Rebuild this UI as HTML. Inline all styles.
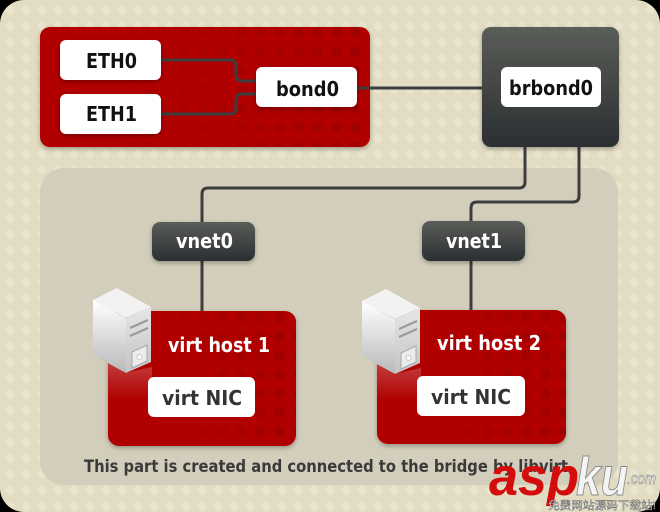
<!DOCTYPE html>
<html><head><meta charset="utf-8">
<style>html,body{margin:0;padding:0;background:#000;}svg{display:block}</style></head>
<body>
<svg width="660" height="512" viewBox="0 0 660 512" xmlns="http://www.w3.org/2000/svg">
<defs>
 <pattern id="bd" width="16" height="16" patternUnits="userSpaceOnUse" x="2" y="2">
  <circle cx="8" cy="8" r="4.2" fill="#ffffff" opacity="0.22"/>
 </pattern>
 <pattern id="rd" width="19" height="19" patternUnits="userSpaceOnUse" x="4" y="4">
  <circle cx="9.5" cy="9.5" r="5.2" fill="#7a0000" opacity="0.3"/>
 </pattern>
 <linearGradient id="dk" x1="0" y1="0" x2="0" y2="1"><stop offset="0" stop-color="#5a5d58"/><stop offset="1" stop-color="#2b2f31"/></linearGradient>
 <linearGradient id="fade" x1="0" x2="1" y1="0" y2="0"><stop offset="0.25" stop-color="#fff" stop-opacity="0"/><stop offset="1" stop-color="#fff" stop-opacity="1"/></linearGradient>
 <linearGradient id="sl" x1="0" y1="0" x2="0" y2="1"><stop offset="0" stop-color="#ffffff"/><stop offset="1" stop-color="#b9b9b9"/></linearGradient>
 <linearGradient id="sf" x1="0" y1="0" x2="0" y2="1"><stop offset="0" stop-color="#e6e6e6"/><stop offset="1" stop-color="#c4c4c4"/></linearGradient>
 <linearGradient id="refl" x1="0" y1="0" x2="0" y2="1"><stop offset="0" stop-color="#fff" stop-opacity="0.28"/><stop offset="1" stop-color="#fff" stop-opacity="0"/></linearGradient>
 <filter id="sh" x="-20%" y="-20%" width="140%" height="150%"><feDropShadow dx="0" dy="2" stdDeviation="2.5" flood-color="#000" flood-opacity="0.3"/></filter>
 <mask id="m1"><rect x="40" y="27" width="330" height="120" fill="url(#fade)"/></mask>
 <mask id="m2"><rect x="108" y="311" width="188" height="135" fill="url(#fade)"/></mask>
 <mask id="m3"><rect x="377" y="310" width="189" height="134" fill="url(#fade)"/></mask>
</defs>

<!-- background card -->
<rect x="0" y="0" width="660" height="512" rx="24" fill="#e2dcc3"/>
<rect x="0" y="0" width="660" height="512" rx="24" fill="url(#bd)"/>

<!-- libvirt panel -->
<rect x="40" y="168" width="578" height="317" rx="24" fill="#d1ccbb" opacity="0.92"/>

<!-- top red box -->
<g filter="url(#sh)">
 <rect x="40" y="27" width="330" height="120" rx="10" fill="#b00000"/>
</g>
<rect x="40" y="27" width="330" height="120" rx="10" fill="url(#rd)" mask="url(#m1)"/>

<!-- connectors -->
<g fill="none" stroke="#3d3d3d" stroke-width="3">
 <path d="M161,60 H230 Q236,60 236,66 V75 Q236,81 242,81 H256"/>
 <path d="M161,114 H230 Q236,114 236,108 V100 Q236,94 242,94 H256"/>
 <path d="M357,88 H482"/>
 <path d="M525,147 V182 Q525,188 519,188 H208 Q202,188 202,194 V311"/>
 <path d="M579,147 V196 Q579,202 573,202 H477 Q471,202 471,208 V310"/>
</g>

<!-- white boxes in top red -->
<g filter="url(#sh)">
 <rect x="60" y="40" width="101" height="40" rx="6" fill="#fff"/>
 <rect x="60" y="94" width="101" height="40" rx="6" fill="#fff"/>
 <rect x="256" y="67" width="101" height="40" rx="6" fill="#fff"/>
</g>

<!-- brbond0 -->
<g filter="url(#sh)">
 <rect x="482" y="27" width="137" height="120" rx="9" fill="url(#dk)"/>
</g>
<rect x="501" y="67" width="100" height="40" rx="6" fill="#fff"/>

<!-- vnets -->
<g filter="url(#sh)">
 <rect x="152" y="222" width="103" height="39" rx="8" fill="url(#dk)"/>
 <rect x="422" y="221" width="103" height="40" rx="8" fill="url(#dk)"/>
</g>

<!-- virt hosts -->
<g filter="url(#sh)">
 <rect x="108" y="311" width="188" height="135" rx="11" fill="#b00000"/>
 <rect x="377" y="310" width="189" height="134" rx="11" fill="#b00000"/>
</g>
<rect x="108" y="311" width="188" height="135" rx="11" fill="url(#rd)" mask="url(#m2)"/>
<rect x="377" y="310" width="189" height="134" rx="11" fill="url(#rd)" mask="url(#m3)"/>
<rect x="148" y="377" width="107" height="40" rx="6" fill="#fff"/>
<rect x="417" y="376" width="108" height="40" rx="6" fill="#fff"/>

<!-- server icons -->
<g id="srv">
 <polygon points="108,356 125,373 152,367 152,400 108,400" fill="url(#refl)"/>
 <polygon points="93,300 117,288 151,307 126,318" fill="#f2f2f2"/>
 <polygon points="93,300 126,318 126,373 93,355" fill="url(#sl)"/>
 <polygon points="126,318 151,307 151,362 126,373" fill="url(#sf)"/>
 <g stroke="#9a9a9a" stroke-width="2.2" fill="none">
  <path d="M130,328 L148,320"/>
  <path d="M130,336 L148,328"/>
 </g>
 <polygon points="132,352 147,345 147,361 132,368" fill="#ececec" stroke="#a8a8a8" stroke-width="1"/>
 <circle cx="139.5" cy="357" r="2.5" fill="#fff" stroke="#bbb" stroke-width="0.8"/>
</g>
<use href="#srv" transform="translate(269,1)"/>

<!-- labels -->
<g font-family="'DejaVu Sans','Liberation Sans',sans-serif" font-weight="bold" font-size="20">
 <text x="86" y="68" textLength="51" lengthAdjust="spacingAndGlyphs" fill="#111">ETH0</text>
 <text x="86" y="121" textLength="51" lengthAdjust="spacingAndGlyphs" fill="#111">ETH1</text>
 <text x="276" y="96" textLength="63" lengthAdjust="spacingAndGlyphs" fill="#111">bond0</text>
 <text x="509" y="95" textLength="84" lengthAdjust="spacingAndGlyphs" fill="#111">brbond0</text>
 <text x="176" y="248" textLength="57" lengthAdjust="spacingAndGlyphs" fill="#fff">vnet0</text>
 <text x="446" y="248" textLength="56" lengthAdjust="spacingAndGlyphs" fill="#fff">vnet1</text>
 <text x="168" y="352" textLength="102" lengthAdjust="spacingAndGlyphs" fill="#fff">virt host 1</text>
 <text x="437" y="350" textLength="104" lengthAdjust="spacingAndGlyphs" fill="#fff">virt host 2</text>
 <text x="162" y="405" textLength="80" lengthAdjust="spacingAndGlyphs" fill="#333">virt NIC</text>
 <text x="431" y="404" textLength="80" lengthAdjust="spacingAndGlyphs" fill="#333">virt NIC</text>
 <text x="84" y="472" font-size="16.5" textLength="484" lengthAdjust="spacingAndGlyphs" fill="#3a3a3a">This part is created and connected to the bridge by libvirt</text>
</g>

<!-- watermark -->
<g font-family="'Liberation Sans',sans-serif" font-weight="bold" font-style="italic">
 <text x="489" y="495" font-size="54" fill="#d40c0c" textLength="90" lengthAdjust="spacingAndGlyphs">asp</text>
 <text x="576" y="495" font-size="54" fill="#f4f4f4" stroke="#8a8a8a" stroke-width="1" textLength="52" lengthAdjust="spacingAndGlyphs">ku</text>
 <text x="627" y="484" font-size="17" font-weight="normal" fill="#f4f4f4" stroke="#777" stroke-width="0.5" textLength="29" lengthAdjust="spacingAndGlyphs">.com</text>
</g>
<text x="548" y="509" font-family="'Liberation Sans','Noto Sans CJK SC',sans-serif" font-size="11" fill="#fff" stroke="#555" stroke-width="0.4" textLength="108" lengthAdjust="spacingAndGlyphs">免费网站源码下载站!</text>
</svg>
</body></html>
